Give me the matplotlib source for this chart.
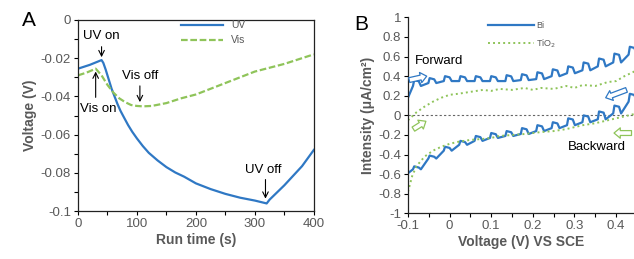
import numpy as np
import matplotlib.pyplot as plt

plt.rcParams['font.family'] = ['Liberation Sans', 'DejaVu Sans']
plt.rcParams['axes.unicode_minus'] = False

# ---- panel A: voltage vs run time ----
t_uv = [0, 20, 40, 43, 47, 52, 57, 62, 67, 72, 78, 85, 92, 100, 110, 120, 135,
        150, 165, 180, 200, 225, 250, 275, 300, 320, 325, 335, 350, 365, 380, 400]
v_uv = [-0.0255, -0.0235, -0.021, -0.0225, -0.026, -0.031, -0.036, -0.040,
        -0.044, -0.0475, -0.051, -0.055, -0.0585, -0.062, -0.066, -0.0695,
        -0.0735, -0.077, -0.0798, -0.082, -0.0855, -0.0885, -0.091, -0.093,
        -0.0945, -0.096, -0.094, -0.091, -0.0865, -0.0815, -0.0765, -0.068]
t_vis = [0, 15, 30, 40, 50, 60, 70, 80, 90, 100, 110, 125, 150, 175, 200, 225,
         250, 275, 300, 325, 350, 375, 400]
v_vis = [-0.029, -0.0275, -0.0255, -0.029, -0.034, -0.038, -0.041, -0.043, -0.0445,
         -0.045, -0.0452, -0.045, -0.0435, -0.041, -0.039, -0.036, -0.033, -0.030,
         -0.027, -0.025, -0.023, -0.0205, -0.018]
a_yticks = [0, -0.02, -0.04, -0.06, -0.08, -0.1]
a_ylabels = ["0", "-0.02", "-0.04", "-0.06", "-0.08", "-0.1"]

# ---- panel B: chopped-light scans ----
# light-on edges (V) and the dark / illuminated current at each chop
chop_v = [-0.088, -0.051, -0.014, 0.023, 0.060, 0.097, 0.134, 0.171, 0.208,
          0.245, 0.282, 0.319, 0.356, 0.393, 0.430]
bi_fw_low = [0.30, 0.33, 0.35, 0.35, 0.35, 0.35, 0.35, 0.36, 0.37, 0.40, 0.43,
             0.46, 0.50, 0.54, 0.62]
bi_fw_high = [0.36, 0.38, 0.40, 0.40, 0.40, 0.40, 0.41, 0.42, 0.44, 0.47, 0.50,
              0.54, 0.58, 0.63, 0.70]
bi_bw_low = [-0.55, -0.44, -0.36, -0.30, -0.26, -0.23, -0.21, -0.19, -0.16,
             -0.13, -0.10, -0.07, -0.04, 0.02, 0.14]
bi_bw_high = [-0.52, -0.41, -0.32, -0.26, -0.21, -0.18, -0.16, -0.13, -0.10,
              -0.07, -0.03, 0.00, 0.04, 0.10, 0.22]
bi_fw_ends = [(-0.1, 0.18), (0.45, 0.72)]
bi_bw_ends = [(-0.1, -0.59), (0.45, 0.22)]

v_tio2 = [-0.1, -0.09, -0.08, -0.06, -0.04, -0.02, 0, 0.02, 0.05, 0.08, 0.1, 0.12,
          0.15, 0.18, 0.2, 0.22, 0.25, 0.28, 0.3, 0.32, 0.35, 0.38, 0.4, 0.42, 0.45]
i_tio2_fw = [-0.05, -0.01, 0.03, 0.09, 0.14, 0.18, 0.21, 0.22, 0.24, 0.26, 0.25,
             0.27, 0.26, 0.28, 0.26, 0.28, 0.27, 0.30, 0.28, 0.31, 0.30, 0.34,
             0.35, 0.40, 0.46]
i_tio2_bw = [-0.78, -0.62, -0.52, -0.42, -0.36, -0.32, -0.29, -0.27, -0.25, -0.24,
             -0.23, -0.21, -0.20, -0.19, -0.18, -0.17, -0.16, -0.14, -0.12, -0.10,
             -0.08, -0.05, -0.03, -0.01, 0.02]
b_xticks = [-0.1, 0, 0.1, 0.2, 0.3, 0.4]
b_xlabels = ["-0.1", "0", "0.1", "0.2", "0.3", "0.4"]
b_yticks = [1, 0.8, 0.6, 0.4, 0.2, 0, -0.2, -0.4, -0.6, -0.8, -1]
b_ylabels = ["1", "0.8", "0.6", "0.4", "0.2", "0", "-0.2", "-0.4", "-0.6", "-0.8", "-1"]

blue = "#2f78c4"
green = "#8fc45a"
grey = "#595959"


def chopped(edges, lows, highs, ends):
    vs, cs = [ends[0][0]], [ends[0][1]]
    for v, lo, hi in zip(edges, lows, highs):
        vs += [v, v + 0.003, v + 0.014, v + 0.019]
        cs += [lo, hi, hi - 0.012, lo]
    vs.append(ends[1][0])
    cs.append(ends[1][1])
    return vs, cs


fig = plt.figure(figsize=(6.34, 2.59), dpi=100)
axA = fig.add_axes([0.123, 0.185, 0.372, 0.738])
axB = fig.add_axes([0.6435, 0.176, 0.3565, 0.757])

# panel A
axA.plot(t_uv, v_uv, color=blue, lw=1.6, label="UV")
axA.plot(t_vis, v_vis, color=green, lw=1.6, ls=(0, (3, 1.2)), label="Vis")
axA.set_xlim(0, 400)
axA.set_ylim(-0.1, 0)
axA.set_xticks([0, 100, 200, 300, 400])
axA.set_xticks([50, 150, 250, 350], minor=True)
axA.set_yticks(a_yticks)
axA.set_yticklabels(a_ylabels)
axA.set_yticks(np.arange(-0.09, 0, 0.02), minor=True)
axA.set_xlabel("Run time (s)", fontsize=10, fontweight="bold", color=grey, labelpad=2)
axA.set_ylabel("Voltage (V)", fontsize=10, fontweight="bold", color=grey, labelpad=3)
axA.legend(loc="upper left", bbox_to_anchor=(0.42, 1.02), frameon=False,
           fontsize=7.5, handlelength=4.0, labelcolor=grey, borderaxespad=0)

arr = dict(arrowstyle="->", color="black", lw=0.8, shrinkA=0, shrinkB=0)
axA.annotate("", xy=(40, -0.0195), xytext=(40, -0.014), arrowprops=arr)
axA.text(40, -0.0085, "UV on", ha="center", va="center", fontsize=9.5)
axA.annotate("", xy=(30, -0.027), xytext=(30, -0.0405), arrowprops=arr)
axA.text(34, -0.0465, "Vis on", ha="center", va="center", fontsize=9.5)
axA.annotate("", xy=(105, -0.043), xytext=(105, -0.0345), arrowprops=arr)
axA.text(105, -0.0295, "Vis off", ha="center", va="center", fontsize=9.5)
axA.annotate("", xy=(318, -0.0935), xytext=(318, -0.0835), arrowprops=arr)
axA.text(314, -0.0785, "UV off", ha="center", va="center", fontsize=9.5)
fig.text(0.035, 0.9, "A", fontsize=15)

# panel B
fw_v, fw_i = chopped(chop_v, bi_fw_low, bi_fw_high, bi_fw_ends)
bw_v, bw_i = chopped(chop_v, bi_bw_low, bi_bw_high, bi_bw_ends)
axB.axhline(0, color="#666666", lw=0.8, ls=(0, (2, 2)))
axB.plot(fw_v, fw_i, color=blue, lw=1.6, label="Bi")
axB.plot(bw_v, bw_i, color=blue, lw=1.6)
axB.plot(v_tio2, i_tio2_fw, color=green, lw=1.4, ls=(0, (1, 1.6)), label="TiO$_2$")
axB.plot(v_tio2, i_tio2_bw, color=green, lw=1.4, ls=(0, (1, 1.6)))
axB.set_xlim(-0.1, 0.443)
axB.set_ylim(-1, 1)
axB.set_xticks(b_xticks)
axB.set_xticklabels(b_xlabels)
axB.set_xticks([-0.05, 0.05, 0.15, 0.25, 0.35], minor=True)
axB.set_yticks(b_yticks)
axB.set_yticklabels(b_ylabels)
axB.spines["top"].set_visible(False)
axB.spines["right"].set_visible(False)
axB.set_xlabel("Voltage (V) VS SCE", fontsize=10, fontweight="bold", color=grey, labelpad=2)
axB.set_ylabel("Intensity (μA/cm²)", fontsize=10, fontweight="bold", color=grey, labelpad=2)
axB.legend(loc="upper left", bbox_to_anchor=(0.34, 1.0), frameon=False,
           fontsize=6.5, handlelength=5.0, labelcolor=grey, borderaxespad=0,
           labelspacing=0.8, handletextpad=0.3)
axB.text(-0.025, 0.55, "Forward", ha="center", va="center", fontsize=9.5)
axB.text(0.355, -0.32, "Backward", ha="center", va="center", fontsize=9.5)

blk = "simple,head_length=0.45,head_width=0.75,tail_width=0.35"
for tail, head, c in [((-0.097, 0.36), (-0.055, 0.40), blue),
                      ((-0.087, -0.14), (-0.057, -0.06), green),
                      ((0.425, 0.26), (0.375, 0.18), blue),
                      ((0.437, -0.18), (0.395, -0.18), green)]:
    axB.annotate("", xy=head, xytext=tail,
                 arrowprops=dict(arrowstyle=blk, fc="white", ec=c, lw=0.9,
                                 shrinkA=0, shrinkB=0))
fig.text(0.558, 0.885, "B", fontsize=15)

for ax in (axA, axB):
    ax.tick_params(which="both", direction="out", length=3, width=0.8,
                   labelsize=9.5, labelcolor=grey, pad=2)
    for s in ax.spines.values():
        s.set_linewidth(0.9)
        s.set_color("#222222")

fig.savefig("out.png", dpi=100)
